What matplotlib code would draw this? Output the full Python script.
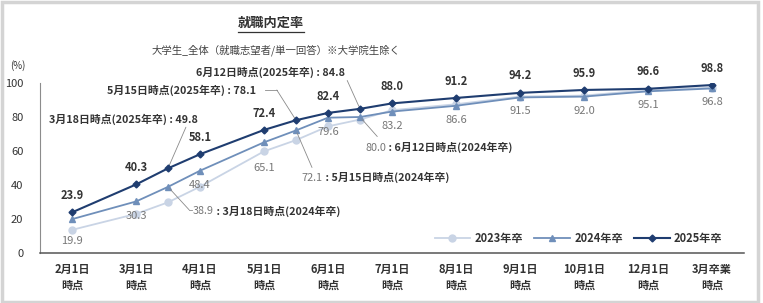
import matplotlib
matplotlib.use("Agg")
import matplotlib.pyplot as plt
from matplotlib.lines import Line2D
from matplotlib.patches import Rectangle

plt.rcParams["font.family"] = ["Noto Sans CJK JP", "DejaVu Sans"]

# category axis (survey dates shown as ticks)
tick_labels = ["2月1日\n時点", "3月1日\n時点", "4月1日\n時点", "5月1日\n時点", "6月1日\n時点",
               "7月1日\n時点", "8月1日\n時点", "9月1日\n時点", "10月1日\n時点", "12月1日\n時点",
               "3月卒業\n時点"]
tick_dates = ["2/1", "3/1", "4/1", "5/1", "6/1", "7/1", "8/1", "9/1", "10/1", "12/1", "卒業"]

# all survey dates, incl. the extra ones between ticks
point_dates = ["2/1", "3/1", "3/18", "4/1", "5/1", "5/15", "6/1", "6/12",
               "7/1", "8/1", "9/1", "10/1", "12/1", "卒業"]

rate_2023 = [13.6, 23.0, 29.8, 39.0, 59.8, 66.4, 74.5, 78.5, 84.0, 87.5, 92.0, 92.6, 95.8, 97.3]
rate_2024 = [19.9, 30.3, 38.9, 48.4, 65.1, 72.1, 79.6, 80.0, 83.2, 86.6, 91.5, 92.0, 95.1, 96.8]
rate_2025 = [23.9, 40.3, 49.8, 58.1, 72.4, 78.1, 82.4, 84.8, 88.0, 91.2, 94.2, 95.9, 96.6, 98.8]

# intermediate dates get called out with a text box instead of a plain label
callout_dates = ["3/18", "5/15", "6/12"]


def date_positions():
    pos = []
    for i, d in enumerate(point_dates):
        if d in tick_dates:
            pos.append(tick_dates.index(d))
        else:
            prev = tick_dates.index(point_dates[i - 1])
            pos.append(prev + 0.5)
    return pos


xs = date_positions()

fig = plt.figure(figsize=(7.63, 3.03), dpi=100)
fig.add_artist(Rectangle((0.002, 0.004), 0.992, 0.99, transform=fig.transFigure,
                         fill=False, edgecolor="#d4d4d4", linewidth=2.5))
ax = fig.add_axes([40 / 763, 50 / 303, 704 / 763, 170 / 303])

c23, c24, c25 = "#c9d4e5", "#6f8fba", "#1f3d70"
ax.plot(xs, rate_2023, color=c23, marker="o", markersize=5, linewidth=1.3, label="2023年卒", zorder=2)
ax.plot(xs, rate_2024, color=c24, marker="^", markersize=5, linewidth=1.3, label="2024年卒", zorder=3)
ax.plot(xs, rate_2025, color=c25, marker="D", markersize=3.5, linewidth=1.5, label="2025年卒", zorder=4)

ax.set_xlim(-0.5, len(tick_labels) - 0.5)
ax.set_ylim(0, 100)
ax.set_yticks(range(0, 101, 20))
ax.set_xticks(range(len(tick_labels)))
ax.set_xticklabels(tick_labels, fontsize=8, fontweight="bold", color="#333333", linespacing=1.35)
ax.tick_params(axis="x", length=0, pad=7)
ax.tick_params(axis="y", length=0, pad=12, labelsize=8, labelcolor="#333333")
for s in ["top", "right"]:
    ax.spines[s].set_visible(False)
ax.spines["left"].set_color("#8c8c8c")
ax.spines["left"].set_linewidth(0.8)
ax.spines["bottom"].set_color("#555555")
ax.spines["bottom"].set_linewidth(1.1)

# value labels
low_24 = {"2/1": -12, "5/1": -15}
for x, d, v25, v24 in zip(xs, point_dates, rate_2025, rate_2024):
    if d in callout_dates:
        continue
    ax.annotate(f"{v25:.1f}", (x, v25), xytext=(0, 7.5), textcoords="offset points",
                ha="center", va="bottom", fontsize=8, fontweight="bold", color="#333333")
    ax.annotate(f"{v24:.1f}", (x, v24), xytext=(0, low_24.get(d, -6.5)), textcoords="offset points",
                ha="center", va="top", fontsize=8, color="#777777")

lead = dict(arrowstyle="-", color="#8a8a8a", linewidth=0.6, shrinkA=0, shrinkB=2)


def callout25(d, tx, ty, line_start, elbow=None):
    i = point_dates.index(d)
    ax.text(tx, ty, f"{d.split('/')[0]}月{d.split('/')[1]}日時点(2025年卒) : {rate_2025[i]:.1f}",
            fontsize=7.8, fontweight="bold", color="#333333", va="center", ha="left", clip_on=False)
    start = line_start
    if elbow is not None:
        ax.plot([line_start[0], elbow[0]], [line_start[1], elbow[1]], color="#8a8a8a", lw=0.6)
        start = elbow
    ax.annotate("", (xs[i], rate_2025[i]), xytext=start, arrowprops=lead, annotation_clip=False)


def callout24(d, tx, ty, line_end, elbow=None):
    i = point_dates.index(d)
    t = ax.text(tx, ty, f"{rate_2024[i]:.1f}", fontsize=7.8, color="#777777",
                va="center", ha="left")
    ax.annotate(f" : {d.split('/')[0]}月{d.split('/')[1]}日時点(2024年卒)", (1, 0.5), xycoords=t,
                va="center", ha="left", fontsize=7.8, fontweight="bold", color="#333333")
    end = line_end
    if elbow is not None:
        ax.plot([elbow[0], line_end[0]], [elbow[1], line_end[1]], color="#8a8a8a", lw=0.6)
        end = elbow
    ax.annotate("", (xs[i], rate_2024[i]), xytext=end, arrowprops=lead)


callout25("3/18", -0.36, 78.7, (1.78, 74.0))
callout25("5/15", 0.54, 95.9, (3.02, 95.9), elbow=(3.2, 95.9))
callout25("6/12", 1.93, 106.5, (4.3, 101.5))
callout24("3/18", 1.89, 24.6, (1.88, 25.4), elbow=(1.83, 25.4))
callout24("5/15", 3.59, 44.4, (3.75, 50.3))
callout24("6/12", 4.58, 62.0, (4.77, 68.5))

leg = ax.legend(loc="center", bbox_to_anchor=(0.765, 0.085), ncol=3, frameon=False,
                handlelength=3.2, columnspacing=1.0, handletextpad=0.4, fontsize=8)
for t in leg.get_texts():
    t.set_fontweight("bold")
    t.set_color("#333333")

fig.text(10 / 763, 1 - 66 / 303, "(%)", fontsize=7, color="#333333", va="center")
title = fig.text(271 / 763, 1 - 23 / 303, "就職内定率", fontsize=9.5, fontweight="bold",
                 color="#333333", ha="center", va="center")
fig.text(276 / 763, 1 - 50 / 303, "大学生_全体（就職志望者/単一回答）※大学院生除く",
         fontsize=7.5, color="#444444", ha="center", va="center")

fig.canvas.draw()
bb = title.get_window_extent().transformed(fig.transFigure.inverted())
fig.add_artist(Line2D([bb.x0, bb.x1], [bb.y0 - 0.008] * 2, transform=fig.transFigure,
                      color="#333333", linewidth=0.9))

fig.savefig("out.png", dpi=100)
